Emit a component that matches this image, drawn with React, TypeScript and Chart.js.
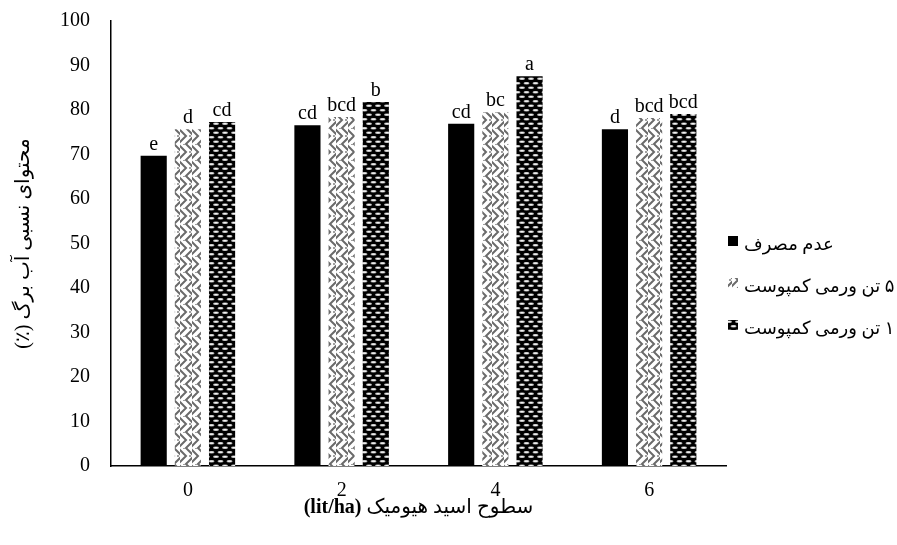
import React, { useEffect, useRef } from "react";
import { Chart, registerables } from "chart.js";

Chart.register(...registerables);

const categories = ["0", "2", "4", "6"];
const seriesNames = ["عدم مصرف", "۵ تن ورمی کمپوست", "۱۰ تن ورمی کمپوست"];
const noneValues = [69.7, 76.6, 76.9, 75.7];
const vermi5Values = [75.7, 78.4, 79.5, 78.2];
const vermi10Values = [77.3, 81.8, 87.6, 79.1];
const noneLetters = ["e", "cd", "cd", "d"];
const vermi5Letters = ["d", "bcd", "bc", "bcd"];
const vermi10Letters = ["cd", "b", "a", "bcd"];
const yTitle = "محتوای نسبی آب برگ (٪)";
const xTitleFa = "سطوح اسید هیومیک";
const xTitleUnit = "(lit/ha)";

const SERIF = "'Liberation Serif', 'Times New Roman', 'DejaVu Sans', serif";

function makeWeavePattern(): CanvasPattern | string {
  const c = document.createElement("canvas");
  c.width = 12;
  c.height = 16;
  const g = c.getContext("2d");
  if (!g) return "#888";
  g.fillStyle = "#ffffff";
  g.fillRect(0, 0, 12, 16);
  g.strokeStyle = "#6a6a6a";
  g.lineWidth = 2;
  g.lineCap = "square";
  g.beginPath();
  g.moveTo(0, 2);
  g.lineTo(6, 8);
  g.lineTo(0, 14);
  g.moveTo(6, 0);
  g.lineTo(12, 6);
  g.moveTo(6, 16);
  g.lineTo(12, 10);
  g.stroke();
  g.fillStyle = "#a0a0a0";
  g.fillRect(9, 7, 2, 2);
  g.fillRect(3, 0, 2, 1);
  return g.createPattern(c, "repeat") || "#888";
}

function makeBrickPattern(): CanvasPattern | string {
  const c = document.createElement("canvas");
  c.width = 9;
  c.height = 9;
  const g = c.getContext("2d");
  if (!g) return "#222";
  g.fillStyle = "#000000";
  g.fillRect(0, 0, 9, 9);
  const oval = (cx: number, cy: number) => {
    g.fillStyle = "#bdbdbd";
    g.beginPath();
    g.ellipse(cx, cy, 3, 1.3, 0, 0, Math.PI * 2);
    g.fill();
    g.fillStyle = "#ffffff";
    g.fillRect(cx - 1.5, cy - 0.5, 3, 1);
  };
  oval(4.5, 2.2);
  oval(0, 6.7);
  oval(9, 6.7);
  return g.createPattern(c, "repeat") || "#222";
}

export default function App() {
  const ref = useRef<HTMLCanvasElement | null>(null);

  useEffect(() => {
    document.body.style.margin = "0";
    const canvas = ref.current;
    if (!canvas) return;
    const weave = makeWeavePattern();
    const brick = makeBrickPattern();
    const letters = [noneLetters, vermi5Letters, vermi10Letters];

    const extras = {
      id: "extras",
      afterDatasetsDraw(chart: any) {
        const ctx = chart.ctx as CanvasRenderingContext2D;
        const area = chart.chartArea;
        ctx.save();
        ctx.font = `20px ${SERIF}`;
        ctx.fillStyle = "#000";
        ctx.textAlign = "center";
        ctx.textBaseline = "alphabetic";
        (ctx as any).direction = "ltr";
        chart.data.datasets.forEach((_ds: any, di: number) => {
          const meta = chart.getDatasetMeta(di);
          meta.data.forEach((bar: any, i: number) => {
            ctx.fillText(letters[di][i], bar.x, bar.y - 6);
          });
        });
        // legend
        const boxX = area.right + 2;
        const textX = area.right + 18;
        chart.data.datasets.forEach((ds: any, di: number) => {
          const rowY = area.top + 224 + di * 42;
          ctx.fillStyle = ds.backgroundColor;
          ctx.fillRect(boxX, rowY - 9, 10, 10);
          ctx.fillStyle = "#000";
          ctx.font = `18px ${SERIF}`;
          (ctx as any).direction = "rtl";
          ctx.textAlign = "left";
          ctx.textBaseline = "middle";
          ctx.fillText(ds.label, textX, rowY);
        });
        // x title with bold unit
        const cx = (area.left + area.right) / 2;
        const ty = area.bottom + 42;
        ctx.textBaseline = "middle";
        ctx.font = `bold 20px ${SERIF}`;
        const wB = ctx.measureText(xTitleUnit).width;
        ctx.font = `20px ${SERIF}`;
        const wS = ctx.measureText(" ").width;
        const wN = ctx.measureText(xTitleFa).width;
        const start = cx - (wB + wS + wN) / 2;
        ctx.font = `bold 20px ${SERIF}`;
        (ctx as any).direction = "ltr";
        ctx.textAlign = "left";
        ctx.fillText(xTitleUnit, start, ty);
        ctx.font = `20px ${SERIF}`;
        (ctx as any).direction = "rtl";
        ctx.textAlign = "left";
        ctx.fillText(xTitleFa, start + wB + wS, ty);
        ctx.restore();
      },
    };

    const chart = new Chart(canvas, {
      type: "bar",
      data: {
        labels: categories,
        datasets: [
          { label: seriesNames[0], data: noneValues, backgroundColor: "#000000", borderWidth: 0 },
          { label: seriesNames[1], data: vermi5Values, backgroundColor: weave as any, borderWidth: 0 },
          { label: seriesNames[2], data: vermi10Values, backgroundColor: brick as any, borderWidth: 0 },
        ],
      },
      options: {
        animation: false,
        responsive: false,
        devicePixelRatio: 1,
        layout: { padding: { left: 0, top: 21, right: 171, bottom: 0 } },
        plugins: {
          legend: { display: false },
          tooltip: { enabled: false },
        },
        datasets: {
          bar: { categoryPercentage: 0.667, barPercentage: 0.765 },
        },
        scales: {
          x: {
            grid: { display: false, drawTicks: false },
            border: { display: true, color: "#000", width: 1.5 },
            ticks: { color: "#000", font: { family: SERIF, size: 20 }, padding: 13 },
            afterFit: (s: any) => {
              s.height = 79;
              s.paddingLeft = 0;
              s.paddingRight = 0;
            },
          },
          y: {
            min: 0,
            max: 100,
            grid: { display: false, drawTicks: false },
            border: { display: true, color: "#000", width: 1.5 },
            ticks: { stepSize: 10, color: "#000", font: { family: SERIF, size: 20 }, padding: 21 },
            title: {
              display: true,
              text: yTitle,
              color: "#000",
              font: { family: SERIF, size: 20 },
              padding: { top: 12, bottom: 0 },
            },
            afterFit: (s: any) => {
              s.width = 111;
              s.paddingTop = 0;
              s.paddingBottom = 0;
            },
          },
        },
      },
      plugins: [extras],
    });
    return () => chart.destroy();
  }, []);

  return (
    <div style={{ width: 897, height: 545 }}>
      <canvas ref={ref} width={897} height={545} dir="rtl" style={{ display: "block" }} />
    </div>
  );
}
